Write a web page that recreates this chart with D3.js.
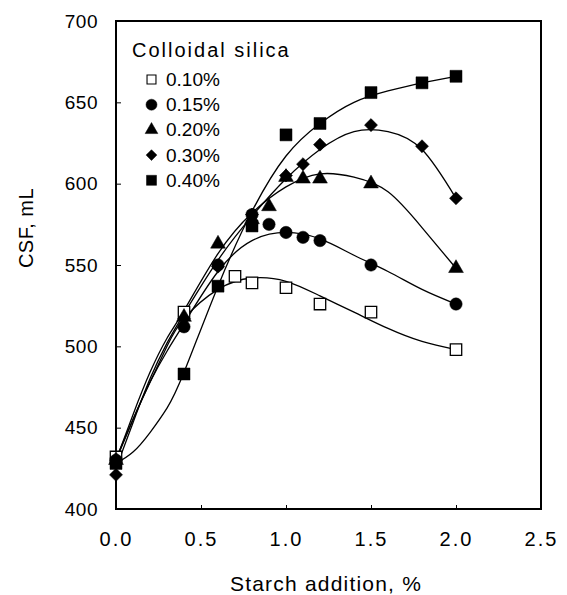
<!DOCTYPE html>
<html>
<head>
<meta charset="utf-8">
<script src="https://cdn.jsdelivr.net/npm/d3@7"></script>
<style>
  html, body { margin: 0; padding: 0; background: #fff; }
  svg { display: block; font-family: "Liberation Sans", Arial, sans-serif; }
</style>
</head>
<body>
<svg id="chart"></svg>
<script>
const seriesNames = ['0.10%', '0.15%', '0.20%', '0.30%', '0.40%'];

const x010 = [0, 0.4, 0.7, 0.8, 1.0, 1.2, 1.5, 2.0];
const y010 = [432, 521, 543, 539, 536, 526, 521, 498];

const x015 = [0, 0.4, 0.6, 0.8, 0.9, 1.0, 1.1, 1.2, 1.5, 2.0];
const y015 = [430, 512, 550, 581, 575, 570, 567, 565, 550, 526];

const x020 = [0, 0.4, 0.6, 0.8, 0.9, 1.0, 1.1, 1.2, 1.5, 2.0];
const y020 = [430, 518, 563, 578, 586, 604, 603, 603, 600, 548];

const x030 = [0, 0.4, 0.6, 0.8, 1.0, 1.1, 1.2, 1.5, 1.8, 2.0];
const y030 = [421, 517, 549, 581, 605, 612, 624, 636, 623, 591];

const x040 = [0, 0.4, 0.6, 0.8, 1.0, 1.2, 1.5, 1.8, 2.0];
const y040 = [428, 483, 537, 574, 630, 637, 656, 662, 666];

// fitted trend curves at these x positions
const fitX = [0, 0.1, 0.2, 0.3, 0.4, 0.6, 0.8, 1.0, 1.2, 1.4, 1.6, 1.8, 2.0];
const fit010 = [431, 455, 478, 500, 517, 535, 542, 540, 531, 521, 511, 503, 498];
const fit015 = [430, 455, 478, 497, 514, 546, 565, 570, 566, 556, 546, 535, 526];
const fit020 = [430, 458, 484, 505, 522, 557, 582, 598, 606, 604, 595, 573, 548];
const fit030 = [425, 453, 480, 502, 520, 553, 580, 603, 621, 632, 632, 621, 591];
const fit040 = [428, 435, 447, 462, 484, 537, 583, 617, 637, 650, 657, 662, 666];

const xTicks = [0, 0.5, 1.0, 1.5, 2.0, 2.5];
const yTicks = [400, 450, 500, 550, 600, 650, 700];

const width = 567;
const height = 595;
const margin = {top: 21, right: 26, bottom: 86, left: 116};

const xs = [x010, x015, x020, x030, x040];
const ys = [y010, y015, y020, y030, y040];
const fits = [fit010, fit015, fit020, fit030, fit040];

// marker look per series: [symbol type, area, filled, rotation]
const markers = [
  [d3.symbolSquare, 130, false, 0],
  [d3.symbolCircle, 120, true, 0],
  [d3.symbolTriangle, 95, true, 0],
  [d3.symbolSquare, 85, true, 45],
  [d3.symbolSquare, 144, true, 0],
];
const legendMarkers = [
  [d3.symbolSquare, 80, false, 0],
  [d3.symbolCircle, 95, true, 0],
  [d3.symbolTriangle, 70, true, 0],
  [d3.symbolSquare, 58, true, 45],
  [d3.symbolSquare, 100, true, 0],
];

const x = d3.scaleLinear()
  .domain([0, 2.5])
  .range([margin.left, width - margin.right]);

const y = d3.scaleLinear()
  .domain([400, 700])
  .range([height - margin.bottom, margin.top]);

const svg = d3.select('#chart')
  .attr('width', width)
  .attr('height', height)
  .attr('viewBox', [0, 0, width, height]);

function xAxis(g) {
  return g
    .attr('transform', `translate(0,${height - margin.bottom})`)
    .call(d3.axisBottom(x).tickValues(xTicks).tickFormat(d3.format('.1f')).tickSize(-4).tickPadding(23))
    .call(g_ => g_.select('.domain').remove())
    .call(g_ => g_.selectAll('.tick line').attr('stroke-width', 1))
    .call(g_ => g_.selectAll('.tick text')
      .attr('font-size', 20)
      .attr('letter-spacing', 2)
      .attr('fill', '#000'));
}

function yAxis(g) {
  return g
    .attr('transform', `translate(${margin.left},0)`)
    .call(d3.axisLeft(y).tickValues(yTicks).tickSize(-5).tickPadding(18))
    .call(g_ => g_.select('.domain').remove())
    .call(g_ => g_.selectAll('.tick line').attr('stroke-width', 1))
    .call(g_ => g_.selectAll('.tick text')
      .attr('font-size', 19)
      .attr('letter-spacing', 0.5)
      .attr('fill', '#000'));
}

svg.append('g').call(xAxis);
svg.append('g').call(yAxis);

// plot frame
svg.append('rect')
  .attr('x', x(0))
  .attr('y', y(700))
  .attr('width', x(2.5) - x(0))
  .attr('height', y(400) - y(700))
  .attr('fill', 'none')
  .attr('stroke', '#000')
  .attr('stroke-width', 2);

const line = d3.line()
  .x((d, i) => x(fitX[i]))
  .y(d => y(d))
  .curve(d3.curveNatural);

svg.append('g')
  .attr('fill', 'none')
  .attr('stroke', '#000')
  .attr('stroke-width', 1.3)
  .selectAll('path')
  .data(fits)
  .join('path')
  .attr('d', line);

function symbolPath(m) {
  return d3.symbol().type(m[0]).size(m[1])();
}

seriesNames.forEach((name, s) => {
  const m = markers[s];
  svg.append('g')
    .selectAll('path')
    .data(ys[s])
    .join('path')
    .attr('transform', (d, i) => `translate(${x(xs[s][i])},${y(d)}) rotate(${m[3]})`)
    .attr('d', symbolPath(m))
    .attr('fill', m[2] ? '#000' : '#fff')
    .attr('stroke', '#000')
    .attr('stroke-width', m[2] ? 0.5 : 1.3);
});

// legend
const legend = svg.append('g').attr('transform', 'translate(132,0)');

legend.append('text')
  .attr('x', 0)
  .attr('y', 57)
  .attr('font-size', 20)
  .attr('letter-spacing', 2)
  .text('Colloidal silica');

const row = legend.selectAll('g.row')
  .data(seriesNames)
  .join('g')
  .attr('class', 'row')
  .attr('transform', (d, i) => `translate(0,${86 + i * 25.2})`);

row.append('path')
  .attr('transform', (d, i) => `translate(19.5,-6.5) rotate(${legendMarkers[i][3]})`)
  .attr('d', (d, i) => symbolPath(legendMarkers[i]))
  .attr('fill', (d, i) => legendMarkers[i][2] ? '#000' : '#fff')
  .attr('stroke', '#000')
  .attr('stroke-width', (d, i) => legendMarkers[i][2] ? 0.5 : 1.1);

row.append('text')
  .attr('x', 34)
  .attr('y', 0)
  .attr('font-size', 19)
  .text(d => d);

// axis titles
svg.append('text')
  .attr('x', 326)
  .attr('y', 591)
  .attr('text-anchor', 'middle')
  .attr('font-size', 21)
  .attr('letter-spacing', 1.2)
  .text('Starch addition, %');

svg.append('text')
  .attr('transform', 'translate(33,228) rotate(-90)')
  .attr('text-anchor', 'middle')
  .attr('font-size', 20)
  .attr('letter-spacing', 0.5)
  .text('CSF, mL');
</script>
</body>
</html>
